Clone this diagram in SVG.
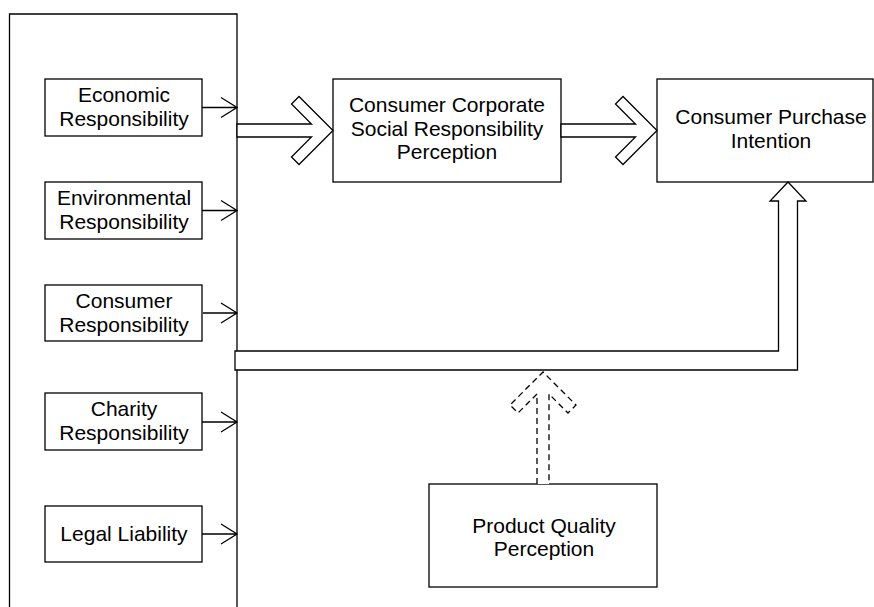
<svg xmlns="http://www.w3.org/2000/svg" width="874" height="607" viewBox="0 0 874 607">
<style>
.box{fill:#fff;stroke:#000;stroke-width:1.3}
.t{font-family:"Liberation Sans",Arial,sans-serif;font-size:21px;fill:#000;text-anchor:middle}
.ln{fill:none;stroke:#000;stroke-width:1.3}
.fa{fill:#fff;stroke:#000;stroke-width:1.3;stroke-linejoin:miter}
.da{fill:#fff;stroke:#000;stroke-width:1.3;stroke-dasharray:6 4}
</style>
<rect width="874" height="607" fill="#fff"/>
<g id="container">
<path class="ln" d="M9.5,610 V14 H237 V610"/>
</g>
<g id="economic">
<rect class="box" x="45" y="79" width="157" height="57"/>
<text class="t" x="124" y="102">Economic</text>
<text class="t" x="124" y="126">Responsibility</text>
</g>
<g id="environmental">
<rect class="box" x="45" y="182" width="157" height="57"/>
<text class="t" x="124" y="205">Environmental</text>
<text class="t" x="124" y="229">Responsibility</text>
</g>
<g id="consumer">
<rect class="box" x="45" y="285" width="157" height="56"/>
<text class="t" x="124" y="308">Consumer</text>
<text class="t" x="124" y="332">Responsibility</text>
</g>
<g id="charity">
<rect class="box" x="45" y="393" width="157" height="57"/>
<text class="t" x="124" y="416">Charity</text>
<text class="t" x="124" y="440">Responsibility</text>
</g>
<g id="legal">
<rect class="box" x="45" y="506" width="157" height="56"/>
<text class="t" x="124" y="541">Legal Liability</text>
</g>
<g id="csr">
<rect class="box" x="333" y="79" width="228" height="103"/>
<text class="t" x="447" y="112">Consumer Corporate</text>
<text class="t" x="447" y="135.5">Social Responsibility</text>
<text class="t" x="447" y="159">Perception</text>
</g>
<g id="cpi">
<rect class="box" x="657" y="79" width="216" height="103"/>
<text class="t" x="771" y="124">Consumer Purchase</text>
<text class="t" x="771" y="147.5">Intention</text>
</g>
<g id="pqp">
<rect class="box" x="429" y="484" width="228" height="103"/>
<text class="t" x="544" y="533">Product Quality</text>
<text class="t" x="544" y="556">Perception</text>
</g>
<g id="connectors">
<path class="ln" d="M202,107.5 H237 M221,97.5 L237,107.5 L221,117.5"/>
<path class="ln" d="M202,210.5 H237 M221,200.5 L237,210.5 L221,220.5"/>
<path class="ln" d="M203,313 H237 M221,303 L237,313 L221,323"/>
<path class="ln" d="M202,422 H237 M221,412 L237,422 L221,432"/>
<path class="ln" d="M202,534 H237 M221,524 L237,534 L221,544"/>
<path class="fa" d="M237,124 H311.5 L291.5,104 L299,96.5 L333,130.5 L299,164.5 L291.5,157 L311.5,137 H237 Z"/>
<path class="fa" d="M561,124 H635.5 L615.5,104 L623,96.5 L657,130.5 L623,164.5 L615.5,157 L635.5,137 H561 Z"/>
<path class="fa" d="M235,351 H778.5 V201 H770 L788,182 L806,201 H797.5 V370 H235 Z"/>
<path class="da" d="M537,484 V394 L518,413 L510,405 L543,372 L576,405 L568,413 L549,394 V484"/>
</g>
</svg>
